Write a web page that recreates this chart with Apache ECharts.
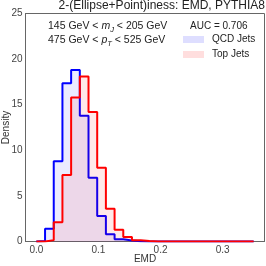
<!DOCTYPE html>
<html><head><meta charset="utf-8">
<script src="https://cdn.jsdelivr.net/npm/echarts@6/dist/echarts.min.js"></script>
<style>html,body{margin:0;padding:0;background:#fff}#c{width:266px;height:266px}</style>
</head><body><div id="c"></div>
<script>
var binEdges = [0.000,0.014,0.028,0.042,0.056,0.070,0.084,0.098,0.112,0.126,0.140,0.154,0.168,0.182,0.196,0.210,0.224,0.238,0.252,0.266,0.280,0.294,0.308,0.322,0.336,0.350];
var qcdDensity = [0.05,1.4,8.8,17.35,18.8,13.8,7.0,2.8,0.8,0.25,0.12,0.04,0,0,0,0,0,0,0,0,0,0,0,0,0];
var topDensity = [0.0,0.15,2.1,7.3,15.8,18.1,14.2,8.1,3.6,1.3,0.5,0.15,0.05,0,0,0,0,0,0,0,0,0,0,0,0];
var xTicks = [0.0,0.1,0.2,0.3];
var yTicks = [0,5,10,15,20,25];
var titleText = '2-(Ellipse+Point)iness: EMD, PYTHIA8';
var aucText = 'AUC = 0.706';
var legendNames = ['QCD Jets','Top Jets'];

function stepData(vals){
  var d=[[binEdges[0],0]];
  for(var i=0;i<vals.length;i++) d.push([binEdges[i],vals[i]]);
  d.push([binEdges[binEdges.length-1],0]);
  return d;
}
var FONT='Liberation Sans';
var chart=echarts.init(document.getElementById('c'),null,{renderer:'canvas'});
var subRich=function(){return {n:{fontFamily:FONT,fontSize:10.5,fill:'#222',verticalAlign:'top'},
  i:{fontFamily:FONT,fontSize:10.5,fontStyle:'italic',fill:'#222',verticalAlign:'top'},
  s:{fontFamily:FONT,fontSize:7.5,fontStyle:'italic',fill:'#222',verticalAlign:'top',padding:[5,0,0,0]}};};
chart.setOption({
  animation:false,
  grid:{left:25.5,right:1.5,top:13.5,bottom:24.5,outerBoundsMode:'none',containLabel:false,show:true,borderColor:'#666',borderWidth:1,backgroundColor:'transparent'},
  xAxis:{type:'value',min:-0.0175,max:0.3675,
    name:'EMD',nameLocation:'middle',nameGap:13,nameMoveOverlap:false,nameTextStyle:{fontFamily:FONT,fontSize:10,color:'#333',verticalAlign:'top'},
    axisLine:{show:true,onZero:false,lineStyle:{color:'#666',width:1}},
    axisTick:{show:false},splitLine:{show:false},
    axisLabel:{customValues:xTicks,fontFamily:FONT,fontSize:10,color:'#444',margin:4,formatter:function(v){return v.toFixed(1);}}},
  yAxis:{type:'value',min:0,max:25,
    name:'Density',nameLocation:'middle',nameGap:14,nameMoveOverlap:false,nameTextStyle:{fontFamily:FONT,fontSize:10,color:'#333',verticalAlign:'bottom'},
    axisLine:{show:true,onZero:false,lineStyle:{color:'#666',width:1}},
    axisTick:{show:false},splitLine:{show:false},
    axisLabel:{customValues:yTicks,fontFamily:FONT,fontSize:10,color:'#444',margin:3}},
  series:[
    {type:'line',name:legendNames[0],data:stepData(qcdDensity),step:'end',symbol:'none',
      lineStyle:{color:'#0000ff',width:2},areaStyle:{color:'rgba(0,0,255,0.11)'},z:2},
    {type:'line',name:legendNames[1],data:stepData(topDensity),step:'end',symbol:'none',
      lineStyle:{color:'#ff0000',width:2},areaStyle:{color:'rgba(255,0,0,0.12)'},z:3}
  ],
  graphic:[
    {type:'text',right:1,top:0,style:{text:titleText,fontFamily:FONT,fontSize:12,fill:'#222'}},
    {type:'text',left:48,top:21,style:{text:'{n|145 GeV < }{i|m}{s|J}{n| < 205 GeV}',rich:subRich()}},
    {type:'text',left:48,top:35,style:{text:'{n|475 GeV < }{i|p}{s|T}{n| < 525 GeV}',rich:subRich()}},
    {type:'text',left:190,top:21,style:{text:aucText,fontFamily:FONT,fontSize:10,fill:'#222'}},
    {type:'rect',shape:{x:183,y:36,width:21,height:7},style:{fill:'rgba(0,0,255,0.13)'}},
    {type:'text',left:212,top:34,style:{text:legendNames[0],fontFamily:FONT,fontSize:10,fill:'#222'}},
    {type:'rect',shape:{x:183,y:51,width:21,height:7},style:{fill:'rgba(255,0,0,0.13)'}},
    {type:'text',left:212,top:49,style:{text:legendNames[1],fontFamily:FONT,fontSize:10,fill:'#222'}}
  ]
});
</script></body></html>
